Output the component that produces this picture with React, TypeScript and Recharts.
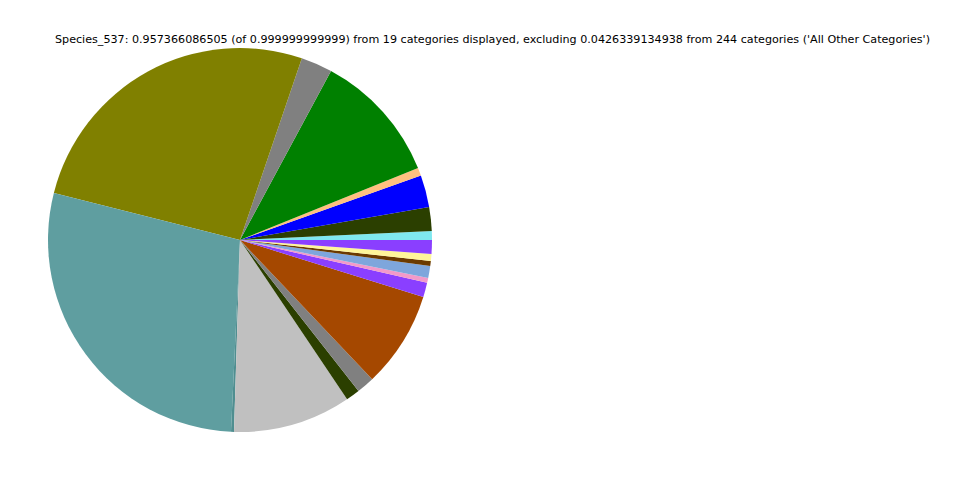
import { PieChart, Pie, Cell } from 'recharts'

const TITLE =
  "Species_537: 0.957366086505 (of 0.999999999999) from 19 categories displayed, excluding 0.0426339134938 from 244 categories ('All Other Categories')"

// categories in drawing order (counterclockwise from 3 o'clock)
const categories = [
  'Cat_01', 'Cat_02', 'Cat_03', 'Cat_04', 'Cat_05', 'Cat_06', 'Cat_07',
  'Cat_08', 'Cat_09', 'Cat_10', 'Cat_11', 'Cat_12', 'Cat_13', 'Cat_14',
  'Cat_15', 'Cat_16', 'Cat_17', 'Cat_18', 'Cat_19',
]

const values = [
  0.00718, 0.01915, 0.0258, 0.00638, 0.10558, 0.02526, 0.25158,
  0.26993, 0.00239, 0.09494, 0.01117, 0.01436, 0.07765, 0.0117,
  0.00399, 0.00957, 0.00399, 0.00558, 0.01117,
]

const colors = [
  '#7fe8ef', '#2b3f00', '#0000ff', '#ffc080', '#008000', '#808080', '#808000',
  '#5f9ea0', '#4f8e90', '#c0c0c0', '#2b3f00', '#808080', '#a54800', '#8a3fff',
  '#f29ac9', '#7ea6dc', '#6b3a00', '#fff59a', '#8a3fff',
]

const data = categories.map((name, i) => ({ name, value: values[i] }))

export default function App() {
  return (
    <div style={{ position: 'absolute', left: 0, top: 0, width: 960, height: 480, background: '#fff' }}>
      <PieChart width={960} height={480} margin={{ top: 0, right: 0, bottom: 0, left: 0 }}>
        <Pie
          data={data}
          dataKey="value"
          nameKey="name"
          cx={240}
          cy={240}
          outerRadius={192}
          startAngle={0}
          endAngle={360}
          stroke="none"
          isAnimationActive={false}
        >
          {data.map((d, i) => (
            <Cell key={d.name} fill={colors[i]} />
          ))}
        </Pie>
      </PieChart>
      <svg width={960} height={480} style={{ position: 'absolute', left: 0, top: 0, pointerEvents: 'none' }}>
        <text
          x={55}
          y={43}
          fontFamily="DejaVu Sans"
          fontSize={11}
          textLength={875}
          lengthAdjust="spacingAndGlyphs"
          fill="#000"
        >
          {TITLE}
        </text>
      </svg>
    </div>
  )
}
